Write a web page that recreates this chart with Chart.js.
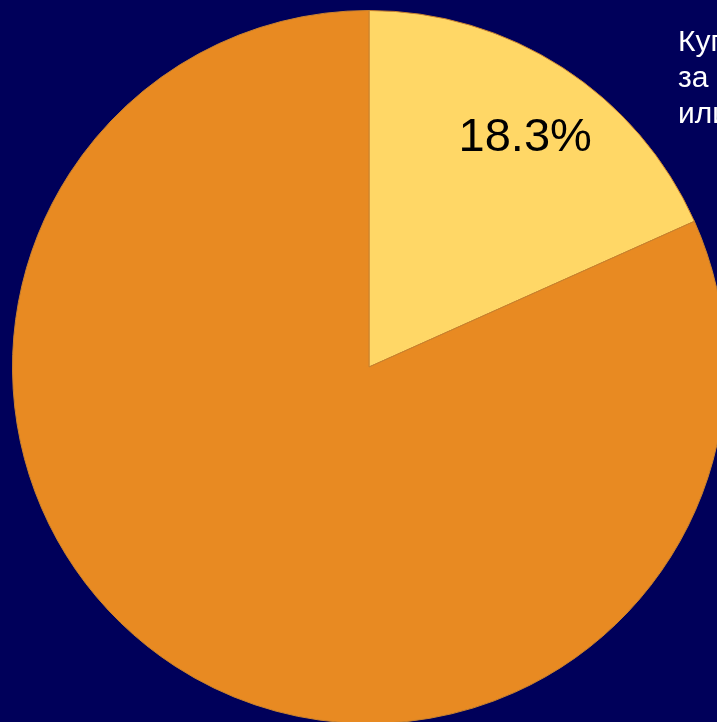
<!DOCTYPE html>
<html>
<head>
<meta charset="utf-8">
<script src="https://cdn.jsdelivr.net/npm/chart.js@4"></script>
<style>
  html, body { margin: 0; padding: 0; width: 717px; height: 722px; overflow: hidden; background: #00005a; }
  #wrap { position: absolute; left: 12px; top: 10px; width: 714px; height: 714px; }
  #note { position: absolute; left: 678px; top: 23px; color: #ffffff; font: 30px 'Liberation Sans', Arial, sans-serif; line-height: 36px; white-space: nowrap; }
</style>
</head>
<body>
<div id="wrap"><canvas id="pieChart"></canvas></div>
<div id="note">Купили<br>за год<br>или нет</div>
<script>
// Datos del gráfico
const labels = ['Да', 'Нет'];
const values = [18.3, 81.7];
const shownLabels = ['18.3%', ''];
const sliceColors = ['#ffd766', '#e88a22'];

// Etiqueta de porcentaje sobre la porción
const sliceLabels = {
    id: 'sliceLabels',
    afterDatasetsDraw(chart) {
        const ctx = chart.ctx;
        chart.getDatasetMeta(0).data.forEach((arc, i) => {
            if (!shownLabels[i]) return;
            const mid = (arc.startAngle + arc.endAngle) / 2;
            const r = arc.outerRadius * 0.785;
            ctx.save();
            ctx.fillStyle = '#000000';
            ctx.font = "47px 'Liberation Sans', Arial, sans-serif";
            ctx.textAlign = 'center';
            ctx.textBaseline = 'middle';
            ctx.fillText(shownLabels[i], arc.x + Math.cos(mid) * r + 4, arc.y + Math.sin(mid) * r + 6);
            ctx.restore();
        });
    }
};

new Chart(document.getElementById('pieChart'), {
    type: 'pie',
    data: {
        labels: labels,
        datasets: [{
            data: values,
            backgroundColor: sliceColors,
            borderColor: '#c9822e',
            borderWidth: 1
        }]
    },
    options: {
        responsive: true,
        maintainAspectRatio: false,
        animation: false,
        layout: { padding: 0 },
        plugins: {
            legend: { display: false },
            tooltip: { enabled: false }
        }
    },
    plugins: [sliceLabels]
});
</script>
</body>
</html>
